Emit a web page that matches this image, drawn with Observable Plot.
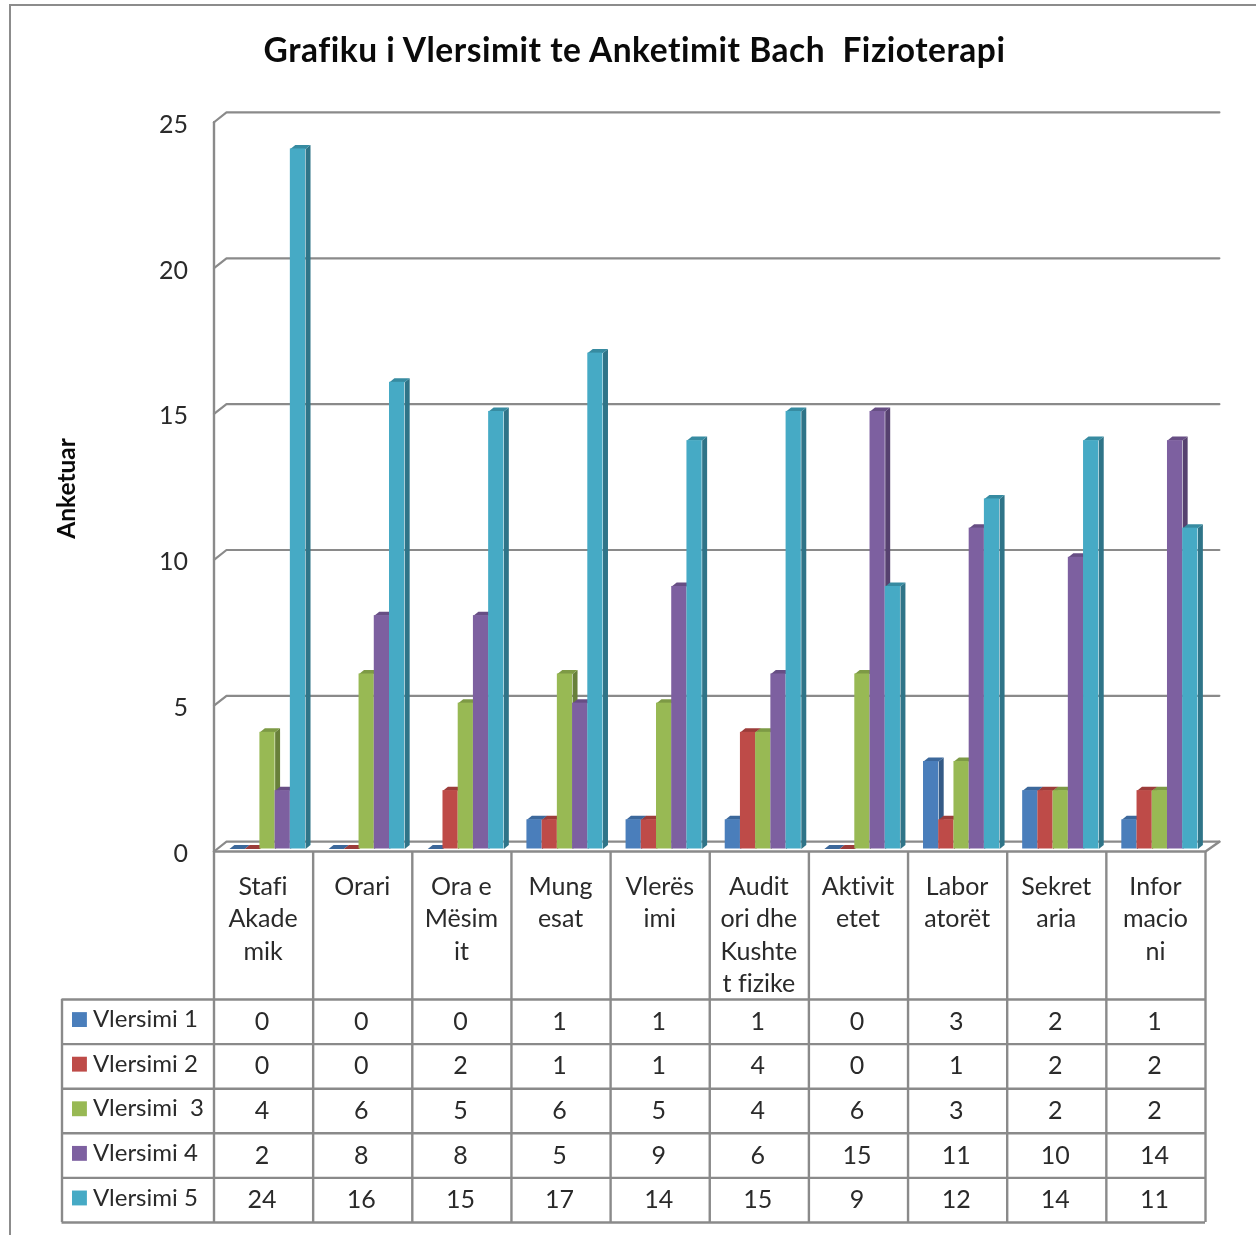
<!DOCTYPE html>
<html>
<head>
<meta charset="utf-8">
<script src="https://cdn.jsdelivr.net/npm/d3@7"></script>
<script src="https://cdn.jsdelivr.net/npm/@observablehq/plot@0.6"></script>
<style>
  html,body{margin:0;padding:0;background:#fff;overflow:hidden}
  #page{position:relative;width:1256px;height:1235px;overflow:hidden;font-family:Lato,sans-serif;font-variant-ligatures:none;filter:blur(0.45px)}
  #page svg text{font-variant-ligatures:none}
  #frame{position:absolute;left:8.5px;top:4px;right:-10px;bottom:-10px;border-left:2.4px solid #8c8c8c;border-top:2.4px solid #8c8c8c}
  #title{position:absolute;left:0;top:27px;width:1269px;text-align:center;font-size:33.5px;letter-spacing:0.52px;font-weight:700;color:#0a0a0a;white-space:pre;line-height:44px}
  #chart,#table{position:absolute;left:0}
  #chart{top:0}
  #table{top:845px}
  svg{background:none!important;display:block}
</style>
</head>
<body>
<div id="page">
  <div id="frame"></div>
  <div id="chart"></div>
  <div id="table"></div>
  <div id="title"></div>
</div>
<script>
const titleText = "Grafiku i Vlersimit te Anketimit Bach  Fizioterapi";
const yLabel = "Anketuar";
const categories = ["Stafi\nAkade\nmik","Orari","Ora e\nMësim\nit","Mung\nesat","Vlerës\nimi","Audit\nori dhe\nKushte\nt fizike","Aktivit\netet","Labor\natorët","Sekret\naria","Infor\nmacio\nni"];
const seriesNames = ["Vlersimi 1","Vlersimi 2","Vlersimi  3","Vlersimi 4","Vlersimi 5"];
const vlersimi1 = [0,0,0,1,1,1,0,3,2,1];
const vlersimi2 = [0,0,2,1,1,4,0,1,2,2];
const vlersimi3 = [4,6,5,6,5,4,6,3,2,2];
const vlersimi4 = [2,8,8,5,9,6,15,11,10,14];
const vlersimi5 = [24,16,15,17,14,15,9,12,14,11];
const seriesValues = [vlersimi1,vlersimi2,vlersimi3,vlersimi4,vlersimi5];
const yTicks = [0,5,10,15,20,25];

const frontColors = ["#4a7ebb","#be4b48","#98b954","#7d60a0","#46aac5"];
const sideColors  = ["#345a86","#86332f","#68803a","#56416f","#2f7488"];
const topColors   = ["#3c689b","#9c3c3a","#7d9a45","#674e84","#378ba1"];
const gridGray = "#8a8a8a";
const textGray = "#2a2a2a";

document.getElementById("title").textContent = titleText;

// 3-D projection of the Excel-style chart, in data units
const barStart = 0.156, barW = 0.1535, depthX = 0.05, depthY = 0.137;
const wallX = 0.126, wallBack = 0.25, wallFront = -0.086, floorEnd = 10.14;

const bars = seriesValues.flatMap((vals,j) => vals.map((v,i) => ({
  key:i+"-"+j, series:seriesNames[j], j, i, v,
  x1:i+barStart+j*barW, x2:i+barStart+(j+1)*barW
})));
const face = (j,fn) => bars.filter(b=>b.j===j).flatMap(b=>fn(b).map(([x,y])=>({key:b.key,x,y})));
const sidePts = b => [[b.x2,0],[b.x2+depthX,depthY],[b.x2+depthX,b.v+depthY],[b.x2,b.v]];
const topPts  = b => [[b.x1,b.v],[b.x1+depthX,b.v+depthY],[b.x2+depthX,b.v+depthY],[b.x2,b.v]];

const grid = yTicks.flatMap(t => [
  {t,x:0,y:t+wallFront},{t,x:wallX,y:t+wallBack},{t,x:floorEnd,y:t+wallBack}
]);
const floorEdge = [
  {x:0,y:wallFront},{x:10,y:wallFront},{x:floorEnd,y:wallBack}
];
const wall = [{x:0,y:25+wallFront},{x:0,y:wallFront}];

const barMarks = seriesNames.flatMap((s,j) => [
  Plot.line(face(j,sidePts),{x:"x",y:"y",z:"key",fill:sideColors[j],stroke:"none",curve:"linear-closed"}),
  Plot.line(face(j,topPts),{x:"x",y:"y",z:"key",fill:topColors[j],stroke:"none",curve:"linear-closed"}),
  Plot.rect(bars.filter(b=>b.j===j),{x1:"x1",x2:"x2",y1:0,y2:"v",fill:"series"})
]);

const color = {domain:seriesNames,range:frontColors};

document.getElementById("chart").append(Plot.plot({
  width:1256,height:860,
  marginLeft:213.5,marginRight:51,marginTop:119.25,marginBottom:11.5,
  style:{background:"none",overflow:"visible"},
  x:{domain:[0,10],axis:null},
  y:{domain:[0,25],axis:null},
  color,
  marks:[
    Plot.line(grid,{x:"x",y:"y",z:"t",stroke:gridGray,strokeWidth:2.2}),
    Plot.line(floorEdge,{x:"x",y:"y",stroke:gridGray,strokeWidth:2.4}),
    Plot.line(wall,{x:"x",y:"y",stroke:gridGray,strokeWidth:2.4}),
    ...barMarks,
    Plot.axisY(yTicks,{anchor:"left",label:null,tickSize:0,tickPadding:26,fontSize:25,dy:5,fill:textGray,fontFamily:"Lato"}),
    Plot.text([yLabel],{x:-1.483,y:12.36,text:d=>d,rotate:-90,fontSize:24.5,fontWeight:700,fill:"#0a0a0a",fontFamily:"Lato"})
  ]
}));

const cellRows = seriesValues.flatMap((vals,r)=>vals.map((v,i)=>({i,r,v})));
const headerRows = seriesNames.map((s,r)=>({s,r}));
const catRows = categories.map((c,i)=>({c,i}));
const colLines = d3.range(0,11);
const rowLines = d3.range(0,6);
const tableLeft = -1.533, headerTop = -3.31;

document.getElementById("table").append(Plot.plot({
  width:1256,height:390,
  marginLeft:213.5,marginRight:51,marginTop:154,marginBottom:13,
  style:{background:"none",overflow:"visible"},
  x:{domain:[0,10],axis:null},
  y:{domain:[5,0],axis:null},
  color,
  marks:[
    Plot.ruleX(colLines,{x:d=>d,y1:headerTop,y2:5,stroke:gridGray,strokeWidth:2.4}),
    Plot.ruleX([tableLeft],{x:d=>d,y1:0,y2:5,stroke:gridGray,strokeWidth:2.4}),
    Plot.ruleY(rowLines,{y:d=>d,x1:tableLeft,x2:10,stroke:gridGray,strokeWidth:2.4}),
    Plot.dot(headerRows,{x:-1.357,y:d=>d.r+0.45,symbol:"square",r:8.4,fill:"s",stroke:"none"}),
    Plot.text(headerRows,{x:-1.221,y:d=>d.r+0.45,text:"s",textAnchor:"start",fontSize:24,fill:textGray,fontFamily:"Lato"}),
    Plot.text(cellRows,{x:d=>d.i+0.485,y:d=>d.r+0.5,text:"v",fontSize:25,fill:textGray,fontFamily:"Lato"}),
    Plot.text(catRows,{x:d=>d.i+0.495,y:-3.31+0.44,text:"c",lineAnchor:"top",lineHeight:1.3,fontSize:25,fill:textGray,fontFamily:"Lato"})
  ]
}));
</script>
</body>
</html>
